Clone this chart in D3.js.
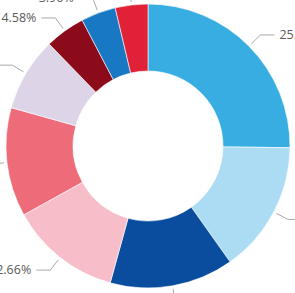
<!DOCTYPE html>
<html>
<head>
<meta charset="utf-8">
<script src="https://cdn.jsdelivr.net/npm/d3@7"></script>
<style>
    html, body { margin: 0; padding: 0; background: #fff; overflow: hidden; }
    .label { font-family: "Open Sans", sans-serif; font-size: 12.5px; fill: #5a5a5a; }
    .leader { fill: none; stroke: #aaa; stroke-width: 1; }
</style>
</head>
<body>
<svg id="chart" width="295" height="293"></svg>
<script>
// ====================================
// Données (sens horaire depuis midi)
// ====================================
const categories = ["A", "B", "C", "D", "E", "F", "G", "H", "I"];
const values = [25.19, 15.00, 14.10, 12.66, 12.40, 8.40, 4.58, 3.96, 3.71];
const colors = ["#37ade2", "#acdcf4", "#0a4d9e", "#f7bdc8", "#ee6b7a",
                "#ddd4e8", "#8c0b1b", "#1878c3", "#e12137"];

const cx = 148, cy = 146;
const outerR = 142, innerR = 75;

const svg = d3.select("#chart");
const g = svg.append("g").attr("transform", `translate(${cx},${cy})`);

const pie = d3.pie().sort(null).value(d => d.value);
const arcs = pie(categories.map((c, i) => ({ name: c, value: values[i], color: colors[i] })));

const arc = d3.arc().innerRadius(innerR).outerRadius(outerR);

/**
 * Dessine les parts de l'anneau
 */
g.selectAll("path.slice")
    .data(arcs)
    .join("path")
    .attr("class", "slice")
    .attr("d", arc)
    .attr("fill", d => d.data.color)
    .attr("stroke", "#fff")
    .attr("stroke-width", 0.6);

/**
 * Étiquettes avec traits de rappel
 */
const startArc = d3.arc().innerRadius(outerR + 3).outerRadius(outerR + 3);
const elbowArc = d3.arc().innerRadius(outerR + 16).outerRadius(outerR + 16);

arcs.forEach(d => {
    const mid = (d.startAngle + d.endAngle) / 2;
    const right = mid < Math.PI;
    const p0 = startArc.centroid(d);
    const p1 = elbowArc.centroid(d);
    const p2 = [p1[0] + (right ? 14 : -14), p1[1]];

    g.append("polyline")
        .attr("class", "leader")
        .attr("points", [p0, p1, p2].map(p => p.join(",")).join(" "));

    g.append("text")
        .attr("class", "label")
        .attr("x", p2[0] + (right ? 5 : -5))
        .attr("y", p2[1])
        .attr("dy", "0.35em")
        .attr("text-anchor", right ? "start" : "end")
        .text(d3.format(".2f")(d.data.value) + "%");
});
</script>
</body>
</html>
